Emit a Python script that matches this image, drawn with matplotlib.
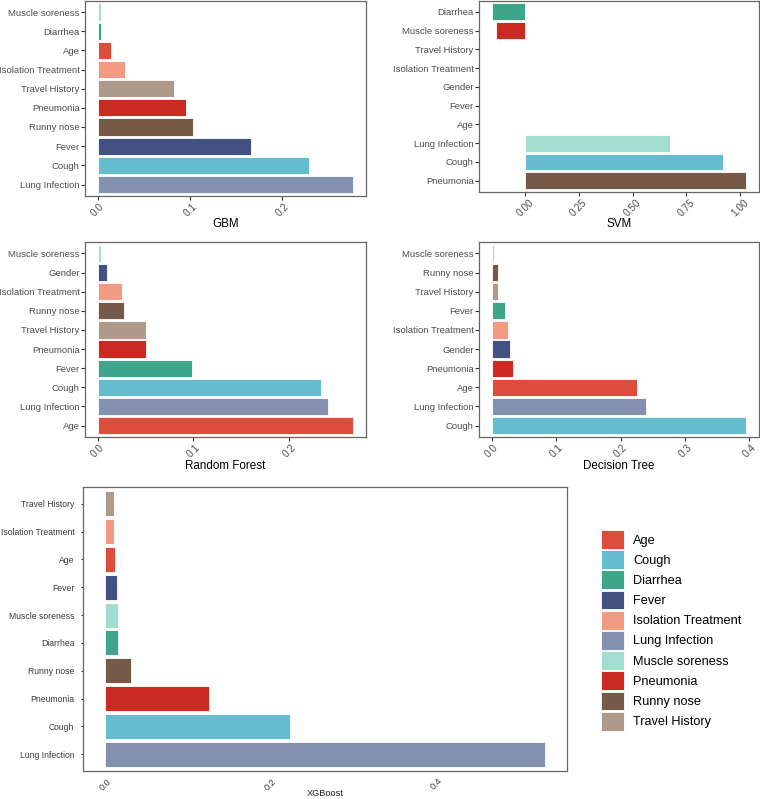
import matplotlib
matplotlib.use("Agg")
import matplotlib.pyplot as plt
from matplotlib.patches import Patch
from matplotlib.ticker import FormatStrFormatter
import numpy as np

plt.rcParams['font.family'] = ['Liberation Sans', 'DejaVu Sans']

# feature importances, listed bottom -> top as drawn
gbm_features = ['Lung Infection', 'Cough', 'Fever', 'Runny nose', 'Pneumonia',
                'Travel History', 'Isolation Treatment', 'Age', 'Diarrhea', 'Muscle soreness']
gbm_values = [0.277, 0.229, 0.166, 0.103, 0.096, 0.083, 0.0296, 0.0144, 0.003, 0.003]

svm_features = ['Pneumonia', 'Cough', 'Lung Infection', 'Age', 'Fever', 'Gender',
                'Isolation Treatment', 'Travel History', 'Muscle soreness', 'Diarrhea']
svm_values = [1.028, 0.922, 0.675, 0.0008, 0.0008, 0.0008, 0.0008, 0.0008, -0.134, -0.155]

rf_features = ['Age', 'Lung Infection', 'Cough', 'Fever', 'Pneumonia', 'Travel History',
               'Runny nose', 'Isolation Treatment', 'Gender', 'Muscle soreness']
rf_values = [0.267, 0.241, 0.233, 0.099, 0.0508, 0.0504, 0.0275, 0.0254, 0.0094, 0.003]

dt_features = ['Cough', 'Lung Infection', 'Age', 'Pneumonia', 'Gender', 'Isolation Treatment',
               'Fever', 'Travel History', 'Runny nose', 'Muscle soreness']
dt_values = [0.395, 0.240, 0.225, 0.0328, 0.0282, 0.0246, 0.020, 0.010, 0.0092, 0.0036]

xgb_features = ['Lung Infection', 'Cough', 'Pneumonia', 'Runny nose', 'Diarrhea',
                'Muscle soreness', 'Fever', 'Age', 'Isolation Treatment', 'Travel History']
xgb_values = [0.531, 0.223, 0.126, 0.031, 0.0152, 0.0152, 0.0143, 0.0121, 0.0112, 0.0112]

legend_labels = ['Age', 'Cough', 'Diarrhea', 'Fever', 'Isolation Treatment', 'Lung Infection',
                 'Muscle soreness', 'Pneumonia', 'Runny nose', 'Travel History']

# npg-like palette (as it appears in the picture), assigned alphabetically per panel
palette = ['#DC4E3B', '#66BCCF', '#3EA58B', '#435182', '#F19B83',
           '#8490B0', '#A3DDD0', '#C92B23', '#745A47', '#AE9A8A']

W, H = 760, 799
fig = plt.figure(figsize=(W / 100, H / 100), dpi=100)


def add_panel(left, top, right, bottom, features, values, title, title_y, ticks, fmt,
              small=False):
    ax = fig.add_axes([left / W, 1 - bottom / H, (right - left) / W, (bottom - top) / H])
    order = sorted(set(features))
    colors = [palette[order.index(f)] for f in features]
    y = np.arange(len(features))
    ax.barh(y, values, height=0.9, color=colors, edgecolor='white', linewidth=0.6)
    ax.set_yticks(y)
    ax.set_yticklabels(features)
    ax.set_ylim(-0.6, len(features) - 0.4)
    lo = min(0, min(values))
    hi = max(values)
    span = hi - lo
    ax.set_xlim(lo - 0.05 * span, hi + 0.05 * span)
    ax.set_xticks(ticks)
    ax.xaxis.set_major_formatter(FormatStrFormatter(fmt))
    for s in ax.spines.values():
        s.set_color('#666666')
        s.set_linewidth(0.9)
    if small:
        ax.tick_params(axis='y', length=1.2, width=0.8, pad=5, labelsize=6.2,
                       colors='#333333', labelcolor='#3a3a3a')
        ax.tick_params(axis='x', length=0, pad=4, labelsize=6.6, labelcolor='#3a3a3a',
                       labelrotation=45)
        ax.set_xlabel(title, fontsize=6.6, color='#222222')
    else:
        ax.tick_params(axis='both', length=2.6, width=0.8, pad=1.2, labelsize=6.8,
                       colors='#333333', labelcolor='#4D4D4D')
        ax.tick_params(axis='x', labelrotation=45, labelsize=7.3)
        ax.set_xlabel(title, fontsize=8.4, color='black')
    ax.xaxis.label.set_va('center')
    ax.xaxis.set_label_coords(0.5, (bottom - title_y) / (bottom - top))
    return ax


add_panel(85, 0.5, 366, 196, gbm_features, gbm_values, 'GBM', 224,
          [0, 0.1, 0.2], '%.1f')
add_panel(479, 0.5, 759, 192, svm_features, svm_values, 'SVM', 224,
          [0, 0.25, 0.5, 0.75, 1.0], '%.2f')
add_panel(85, 242, 366, 437, rf_features, rf_values, 'Random Forest', 466,
          [0, 0.1, 0.2], '%.1f')
add_panel(479, 242, 759, 437, dt_features, dt_values, 'Decision Tree', 466,
          [0, 0.1, 0.2, 0.3, 0.4], '%.1f')
add_panel(83, 487, 567, 771, xgb_features, xgb_values, 'XGBoost', 793,
          [0, 0.2, 0.4], '%.1f', small=True)

handles = [Patch(facecolor=palette[i], edgecolor='white', linewidth=0.6, label=lab)
           for i, lab in enumerate(legend_labels)]
fig.legend(handles=handles, loc='upper left', bbox_to_anchor=(601 / W, 1 - 530 / H),
           frameon=False, fontsize=9.2, handlelength=1.8, handleheight=1.9,
           labelspacing=0.1, handletextpad=0.7, borderpad=0, borderaxespad=0)

fig.savefig('out.png', dpi=100)
